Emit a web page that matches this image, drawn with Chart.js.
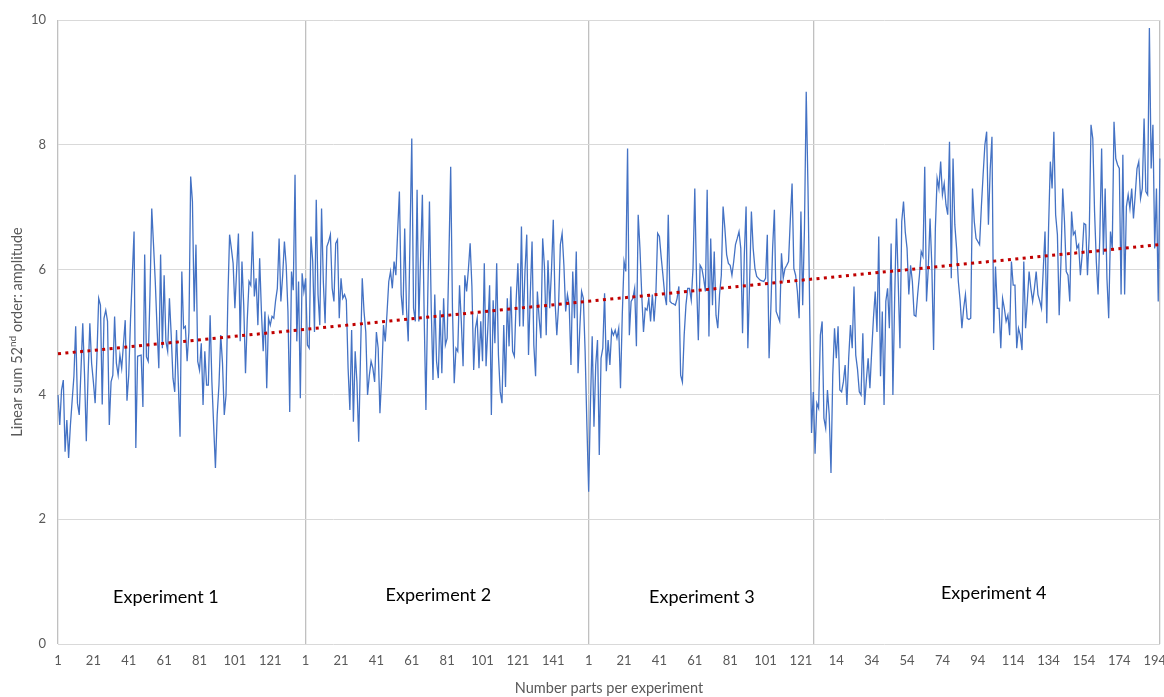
<!DOCTYPE html>
<html>
<head>
<meta charset="utf-8">
<script src="https://cdn.jsdelivr.net/npm/chart.js@4.4.1/dist/chart.umd.min.js"></script>
<style>
  html, body { margin: 0; padding: 0; background: #fff; }
</style>
</head>
<body>
<canvas id="ampChart" width="1164" height="697"></canvas>
<script>
// amplitude per part (one array per experiment)
const exp1 = [
  3.99, 3.51, 4.07, 4.23, 3.08, 3.59, 2.98, 3.5, 3.9, 4.29,
  5.09, 3.86, 3.67, 4.4, 5.14, 4.31, 3.25, 4.3, 5.14, 4.5,
  4.2, 3.86, 4.6, 5.54, 5.43, 3.84, 5.22, 5.35, 5.17, 3.51,
  4.2, 4.31, 5.25, 4.5, 4.31, 4.63, 4.42, 4.8, 5.19, 3.9,
  4.31, 5.2, 5.9, 6.61, 3.14, 4.61, 4.62, 4.63, 3.8, 6.24,
  4.6, 4.53, 5.6, 6.98, 6.4, 5.8, 5.06, 4.42, 6.24, 4.74,
  5.91, 4.85, 4.69, 5.54, 4.95, 4.26, 4.04, 5.03, 4.2, 3.32,
  5.97, 5.06, 5.09, 4.53, 5.0, 7.49, 7.09, 5.33, 6.4, 4.53,
  4.39, 4.82, 3.83, 4.69, 4.15, 4.15, 5.27, 4.2, 3.5, 2.82,
  3.67, 4.15, 4.95, 4.5, 3.67, 3.99, 5.5, 6.56, 6.34, 6.1,
  5.38, 6.0, 6.58, 4.85, 6.13, 5.43, 4.34, 5.2, 5.81, 5.75,
  6.61, 5.57, 5.86, 5.11, 6.18, 5.33, 4.69, 5.33, 4.1, 5.22,
  5.11, 5.25, 5.22, 5.5, 5.7, 6.5, 5.49, 5.9, 6.45, 6.07,
  5.33, 3.72, 5.97, 5.67, 7.52, 4.85, 5.81, 3.94, 5.94, 5.65
];
const exp2 = [
  5.86, 4.79, 4.74, 6.53, 6.13, 5.0, 7.12, 5.6, 5.11, 6.98,
  5.81, 5.14, 6.37, 6.45, 6.56, 5.7, 5.49, 6.42, 6.48, 5.22,
  5.86, 5.54, 5.6, 5.51, 4.42, 3.75, 5.03, 3.56, 4.69, 4.2,
  3.24, 4.6, 5.86, 5.33, 5.0, 3.99, 4.3, 4.53, 4.42, 4.2,
  5.0, 4.74, 3.7, 4.3, 5.11, 4.85, 5.3, 5.81, 5.97, 5.7,
  6.13, 5.91, 6.6, 7.25, 5.6, 5.27, 6.66, 5.38, 4.85, 6.5,
  8.1, 5.38, 5.17, 7.28, 5.17, 6.2, 7.2, 5.27, 3.75, 5.5,
  7.09, 5.38, 4.23, 5.6, 4.53, 4.26, 5.35, 4.34, 5.54, 4.79,
  4.9, 6.2, 7.65, 5.38, 4.18, 4.74, 4.69, 5.75, 5.17, 4.45,
  5.91, 5.65, 6.0, 6.42, 5.73, 4.39, 5.06, 5.22, 4.42, 5.17,
  4.53, 6.1, 4.45, 5.06, 5.75, 3.67, 5.51, 4.82, 6.1, 4.63,
  4.04, 3.86, 5.11, 4.12, 5.54, 4.77, 5.73, 4.69, 4.61, 5.5,
  6.1, 5.09, 6.69, 5.09, 5.97, 6.56, 4.63, 5.6, 6.45, 4.79,
  4.29, 5.65, 5.22, 4.9, 6.5, 6.05, 4.95, 6.15, 5.38, 6.0,
  6.8, 5.49, 4.95, 5.43, 6.4, 6.58, 6.07, 5.33, 5.6, 5.43,
  4.47, 5.97, 5.22, 6.29, 4.34, 5.06, 5.65, 5.54, 4.69, 3.51
];
const exp3 = [
  2.44, 3.83, 4.93, 3.48, 4.47, 4.87, 3.03, 4.58, 4.74, 5.62,
  4.37, 4.87, 4.47, 5.03, 4.95, 5.03, 4.9, 5.06, 4.1, 5.27,
  6.13, 5.97, 7.94, 4.95, 5.49, 5.54, 5.7, 4.77, 6.88, 6.34,
  5.6, 5.0, 5.38, 5.35, 5.54, 5.17, 5.6, 5.17, 5.6, 6.58,
  6.53, 6.2, 5.91, 5.6, 5.43, 6.88, 5.49, 5.46, 5.45, 5.43,
  5.54, 5.73, 4.31, 4.2, 4.95, 5.43, 5.7, 5.7, 5.51, 6.02,
  7.3, 5.81, 4.87, 6.07, 6.02, 5.86, 5.65, 7.28, 4.93, 6.5,
  5.43, 6.29, 5.27, 5.06, 5.6, 5.91, 7.01, 6.66, 6.24, 6.1,
  6.07, 5.91, 6.13, 6.4, 6.5, 6.61, 6.34, 4.98, 6.24, 7.01,
  4.74, 5.81, 6.93, 6.34, 6.02, 5.89, 5.86, 5.83, 5.82, 5.81,
  5.86, 6.56, 4.58, 5.38, 6.34, 6.96, 5.33, 5.25, 5.17, 6.26,
  5.86, 6.02, 6.07, 6.13, 6.8, 7.38, 6.02, 5.91, 5.65, 5.22,
  6.93, 5.43, 6.66, 8.85, 7.3, 5.27, 3.38
];
const exp4 = [
  4.04, 3.05, 3.86, 3.78, 4.95, 5.17, 3.62, 3.46, 4.07, 3.67,
  2.74, 4.31, 5.06, 4.58, 5.09, 4.07, 4.04, 4.2, 4.47, 3.83,
  4.58, 5.11, 4.74, 5.73, 4.63, 4.4, 4.04, 3.99, 4.98, 3.83,
  4.23, 4.58, 4.1, 4.69, 5.22, 5.65, 5.0, 6.53, 4.29, 5.33,
  3.83, 5.49, 5.7, 5.06, 6.42, 3.99, 5.54, 6.82, 5.81, 4.74,
  6.77, 7.09, 6.6, 6.34, 5.6, 6.07, 5.81, 5.27, 5.25, 5.6,
  5.91, 6.29, 6.21, 7.65, 5.49, 6.02, 6.82, 6.07, 4.71, 6.66,
  7.46, 7.3, 7.73, 7.2, 7.38, 7.04, 6.88, 8.05, 5.86, 7.78,
  6.72, 6.34, 5.81, 5.5, 5.06, 5.38, 5.6, 5.22, 5.2, 5.22,
  7.3, 6.77, 6.5, 6.45, 6.4, 7.0, 7.52, 8.0, 8.21, 6.72,
  7.6, 8.13, 4.98, 6.05, 5.38, 5.38, 4.74, 5.54, 5.38, 5.17,
  5.27, 4.95, 6.13, 5.75, 5.75, 4.74, 5.06, 4.95, 4.71, 6.13,
  5.06, 5.5, 5.97, 5.7, 5.49, 5.7, 5.97, 5.6, 5.5, 5.38,
  6.0, 6.61, 5.14, 6.66, 7.73, 7.3, 8.21, 6.88, 6.56, 5.27,
  6.13, 7.3, 6.77, 5.97, 5.91, 5.49, 6.93, 6.56, 6.61, 6.34,
  6.4, 5.91, 6.24, 6.74, 6.72, 5.91, 6.56, 8.32, 8.1, 6.93,
  6.13, 5.6, 6.56, 7.94, 6.24, 7.3, 5.86, 5.22, 6.61, 6.34,
  8.37, 7.78, 7.68, 7.62, 5.6, 7.84, 5.6, 7.01, 7.2, 6.98,
  7.3, 6.82, 7.2, 7.62, 7.73, 7.14, 7.3, 8.42, 7.25, 7.2,
  9.87, 7.62, 8.32, 6.34, 7.3, 5.49, 7.78
];

// linear trend line, ends
const trendStart = 4.65;
const trendEnd = 6.40;

// text labels under the curves: name, category position, height (axis units)
const expNames = ['Experiment 1', 'Experiment 2', 'Experiment 3', 'Experiment 4'];
const expTextAt = [61, 215, 364, 529];
const expTextY = [0.75, 0.79, 0.75, 0.82];

const yTitleMain = 'Linear sum 52';
const yTitleSup = 'nd';
const yTitleRest = ' order: amplitude';

// build the category axis (part number restarts for each experiment)
var labels = [];
var amplitude = [];
var boundaries = [];
[exp1, exp2, exp3, exp4].forEach(function(e) {
    boundaries.push(labels.length);
    e.forEach(function(v, i) {
        labels.push(String(i + 1));
        amplitude.push(v);
    });
});
boundaries.push(labels.length - 1);

var trend = amplitude.map(function() { return null; });
trend[0] = trendStart;
trend[trend.length - 1] = trendEnd;

var FONT = "Lato, 'Open Sans', sans-serif";

// experiment names + y title with superscript
var textPlugin = {
    id: 'expText',
    afterDraw: function(chart) {
        var ctx = chart.ctx;
        var xs = chart.scales.x, ys = chart.scales.y;
        ctx.save();
        ctx.fillStyle = '#000';
        ctx.font = '18px ' + FONT;
        ctx.textAlign = 'center';
        ctx.textBaseline = 'middle';
        expNames.forEach(function(name, i) {
            ctx.fillText(name, xs.getPixelForValue(expTextAt[i]), ys.getPixelForValue(expTextY[i]));
        });

        // rotated y-axis title
        var big = '14.5px ' + FONT, small = '10px ' + FONT;
        ctx.font = big;
        var w1 = ctx.measureText(yTitleMain).width;
        var w3 = ctx.measureText(yTitleRest).width;
        ctx.font = small;
        var w2 = ctx.measureText(yTitleSup).width;
        var total = w1 + w2 + w3;
        var cy = (ys.top + ys.bottom) / 2;
        ctx.translate(17, cy);
        ctx.rotate(-Math.PI / 2);
        ctx.fillStyle = '#595959';
        ctx.textAlign = 'left';
        ctx.textBaseline = 'middle';
        var x0 = -total / 2;
        ctx.font = big;
        ctx.fillText(yTitleMain, x0, 0);
        ctx.font = small;
        ctx.fillText(yTitleSup, x0 + w1, -4.5);
        ctx.font = big;
        ctx.fillText(yTitleRest, x0 + w1 + w2, 0);
        ctx.restore();
    }
};

var ctx = document.getElementById('ampChart').getContext('2d');
var ampChart = new Chart(ctx, {
    type: 'line',
    data: {
        labels: labels,
        datasets: [
            {
                label: 'Linear trend',
                data: trend,
                spanGaps: true,
                borderColor: '#C00000',
                borderWidth: 3,
                borderDash: [3, 4.4],
                pointRadius: 0,
                fill: false
            },
            {
                label: 'Amplitude',
                data: amplitude,
                borderColor: '#4472C4',
                borderWidth: 1.3,
                pointRadius: 0,
                tension: 0,
                fill: false
            }
        ]
    },
    options: {
        responsive: false,
        animation: false,
        devicePixelRatio: 1,
        layout: { padding: { top: 20, right: 4, left: 0, bottom: 0 } },
        plugins: {
            legend: { display: false },
            tooltip: { enabled: false }
        },
        scales: {
            x: {
                grid: {
                    drawTicks: false,
                    color: function(c) {
                        return boundaries.indexOf(c.index) >= 0 ? '#c0c0c0' : 'rgba(0,0,0,0)';
                    },
                    lineWidth: 1.3
                },
                border: { display: false },
                ticks: {
                    autoSkip: false,
                    maxRotation: 0,
                    padding: 9,
                    color: '#595959',
                    font: { family: FONT, size: 13 },
                    callback: function(val, index) {
                        return index % 20 === 0 ? labels[index] : '';
                    }
                },
                title: {
                    display: true,
                    text: 'Number parts per experiment',
                    color: '#595959',
                    font: { family: FONT, size: 14.5 },
                    padding: { top: 0, bottom: 0 }
                },
                afterFit: function(scale) {
                    scale.height = 53;
                    scale.paddingLeft = 0;
                    scale.paddingRight = 0;
                }
            },
            y: {
                min: 0,
                max: 10,
                ticks: {
                    stepSize: 2,
                    padding: 12,
                    color: '#595959',
                    font: { family: FONT, size: 13 }
                },
                grid: { drawTicks: false, color: '#d9d9d9' },
                border: { display: false },
                afterFit: function(scale) { scale.width = 58; }
            }
        }
    },
    plugins: [textPlugin]
});
</script>
</body>
</html>
